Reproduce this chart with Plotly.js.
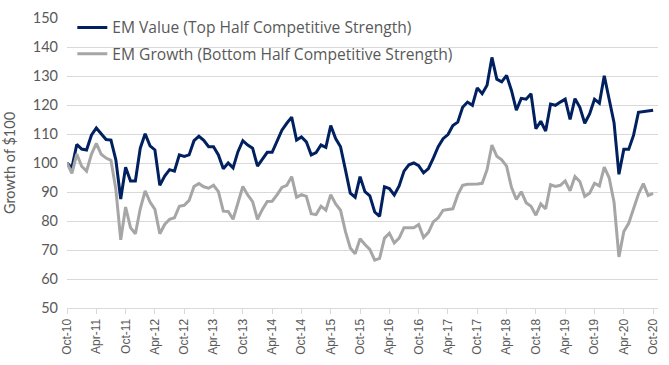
<!DOCTYPE html>
<html>
<head>
<meta charset="utf-8">
<script src="https://cdn.plot.ly/plotly-3.0.1.min.js"></script>
<style>
  html, body { margin: 0; padding: 0; background: #ffffff; }
  #chart { width: 669px; height: 365px; }
</style>
</head>
<body>
<div id="chart"></div>
<script>
// Month categories (Oct-10 .. Oct-20)
var months = [
  "Oct-10","Nov-10","Dec-10",
  "Jan-11","Feb-11","Mar-11","Apr-11","May-11","Jun-11","Jul-11","Aug-11","Sep-11","Oct-11","Nov-11","Dec-11",
  "Jan-12","Feb-12","Mar-12","Apr-12","May-12","Jun-12","Jul-12","Aug-12","Sep-12","Oct-12","Nov-12","Dec-12",
  "Jan-13","Feb-13","Mar-13","Apr-13","May-13","Jun-13","Jul-13","Aug-13","Sep-13","Oct-13","Nov-13","Dec-13",
  "Jan-14","Feb-14","Mar-14","Apr-14","May-14","Jun-14","Jul-14","Aug-14","Sep-14","Oct-14","Nov-14","Dec-14",
  "Jan-15","Feb-15","Mar-15","Apr-15","May-15","Jun-15","Jul-15","Aug-15","Sep-15","Oct-15","Nov-15","Dec-15",
  "Jan-16","Feb-16","Mar-16","Apr-16","May-16","Jun-16","Jul-16","Aug-16","Sep-16","Oct-16","Nov-16","Dec-16",
  "Jan-17","Feb-17","Mar-17","Apr-17","May-17","Jun-17","Jul-17","Aug-17","Sep-17","Oct-17","Nov-17","Dec-17",
  "Jan-18","Feb-18","Mar-18","Apr-18","May-18","Jun-18","Jul-18","Aug-18","Sep-18","Oct-18","Nov-18","Dec-18",
  "Jan-19","Feb-19","Mar-19","Apr-19","May-19","Jun-19","Jul-19","Aug-19","Sep-19","Oct-19","Nov-19","Dec-19",
  "Jan-20","Feb-20","Mar-20","Apr-20","May-20","Jun-20","Jul-20","Aug-20","Sep-20","Oct-20"
];

// EM Value (Top Half Competitive Strength)
var emValue = [
  100, 98.3, 106.4,
  104.8, 104.5, 109.6, 112.1, 110, 108.1, 107.9, 101.1, 87.6, 98.5, 93.8, 93.8,
  105.1, 110.1, 105.9, 104.5, 92.3, 95.5, 97.7, 97.2, 102.8, 102.3, 102.8, 107.7,
  109.2, 107.8, 105.6, 105.6, 102.8, 98, 100, 98.3, 103.9, 107.7, 106.2, 105.1,
  98.9, 101.1, 103.7, 103.7, 107.3, 111.3, 113.7, 115.8, 107.9, 109, 107.3, 102.8,
  103.6, 106.2, 105.4, 112.9, 108.4, 105.6, 97.7, 89.6, 88.2, 95.3, 90.1, 88.7,
  83.1, 81.6, 91.8, 91.2, 89, 92.1, 97.2, 99.4, 100, 99.1, 96.6, 98.1,
  101.7, 105.6, 108.4, 109.8, 112.9, 114.1, 119.2, 121, 119.9, 125.9, 123.9, 126.8,
  136.4, 128.9, 128, 130.2, 125, 118.2, 122.3, 122, 123.9, 111.8, 114.4, 111,
  120.3, 119.9, 121, 122, 115, 122.2, 119.2, 113.7, 116.9, 122, 120.6, 130.1,
  122, 113.9, 96.1, 104.7, 104.7, 109.6, 117.5, 117.7, 117.9, 118.2
];

// EM Growth (Bottom Half Competitive Strength)
var emGrowth = [
  100, 96.4, 103.1,
  98.9, 97.2, 103, 106.8, 103, 101.7, 100.9, 91, 73.5, 84.8, 77.7, 75.6,
  84.2, 90.4, 86.5, 84, 75.6, 78.8, 80.6, 81.1, 85.1, 85.4, 87.1, 91.9,
  92.9, 91.8, 91.3, 92.3, 90.1, 83.4, 83.3, 80.6, 86.5, 91.9, 89, 86.7,
  80.6, 84, 86.7, 86.8, 89, 91.6, 92.3, 95.3, 88.2, 89.1, 88.5, 82.5,
  82.2, 85.1, 83.7, 89.1, 85.9, 83.7, 76.4, 70.7, 68.7, 73.9, 71.9, 70.2,
  66.5, 67.1, 74.1, 75.8, 72.4, 74.1, 77.7, 77.7, 77.7, 78.8, 74.3, 76.1,
  79.7, 81.1, 83.7, 84, 84.2, 89, 92.3, 92.7, 92.7, 92.8, 93, 97.7,
  106.2, 102.3, 101.1, 98.9, 91.6, 87.4, 90.1, 86.3, 85.1, 82, 85.9, 84.2,
  92.5, 91.9, 92.3, 93.8, 90.4, 95.3, 93.6, 88.5, 89.6, 93, 92.1, 98.6,
  94.9, 86.5, 67.6, 76.4, 79.2, 84.2, 89.3, 92.9, 88.8, 89.5
];

// Tick labels shown on the x axis
var xTickLabels = ["Oct-10","Apr-11","Oct-11","Apr-12","Oct-12","Apr-13","Oct-13","Apr-14","Oct-14","Apr-15",
  "Oct-15","Apr-16","Oct-16","Apr-17","Oct-17","Apr-18","Oct-18","Apr-19","Oct-19","Apr-20","Oct-20"];

var seriesNames = ["EM Value (Top Half Competitive Strength)", "EM Growth (Bottom Half Competitive Strength)"];

var traces = [
  {
    x: months, y: emValue, type: 'scatter', mode: 'lines',
    name: seriesNames[0], legendgroup: 'a',
    line: { color: '#002060', width: 3 }
  },
  {
    x: months, y: emGrowth, type: 'scatter', mode: 'lines',
    name: seriesNames[1], legendgroup: 'b',
    line: { color: '#A6A6A6', width: 3 }
  }
];

var layout = {
  width: 669, height: 365,
  margin: { l: 67, r: 11, t: 12, b: 57 },
  paper_bgcolor: '#ffffff', plot_bgcolor: '#ffffff',
  font: { family: '"Open Sans", "Liberation Sans", sans-serif', color: '#595959' },
  showlegend: true,
  legend: {
    x: 0.009, y: 1.025, xanchor: 'left', yanchor: 'top',
    bgcolor: 'rgba(0,0,0,0)', borderwidth: 0,
    font: { size: 15.6, color: '#595959', family: '"Open Sans", sans-serif' },
    tracegroupgap: 3
  },
  xaxis: {
    type: 'category',
    range: [0, 121],
    tickmode: 'array', tickvals: xTickLabels, ticktext: xTickLabels,
    tickangle: -90,
    tickfont: { family: '"Liberation Sans", Arial, sans-serif', size: 12, color: '#595959' },
    ticks: 'outside', ticklen: 5, tickcolor: '#d9d9d9', tickwidth: 1,
    showline: true, linecolor: '#d9d9d9', linewidth: 1,
    showgrid: false, zeroline: false, fixedrange: true
  },
  yaxis: {
    range: [50, 150], dtick: 10, tick0: 50,
    showgrid: true, gridcolor: '#d9d9d9', gridwidth: 1,
    zeroline: false, showline: false, ticks: '',
    ticklabelstandoff: 8,
    tickfont: { size: 14.5, color: '#595959', family: 'Lato, sans-serif' },
    title: { text: 'Growth of $100', font: { size: 14.5, color: '#595959', family: 'Lato, sans-serif' }, standoff: 13 },
    fixedrange: true
  }
};

Plotly.newPlot('chart', traces, layout, { displayModeBar: false, staticPlot: true });
</script>
</body>
</html>
